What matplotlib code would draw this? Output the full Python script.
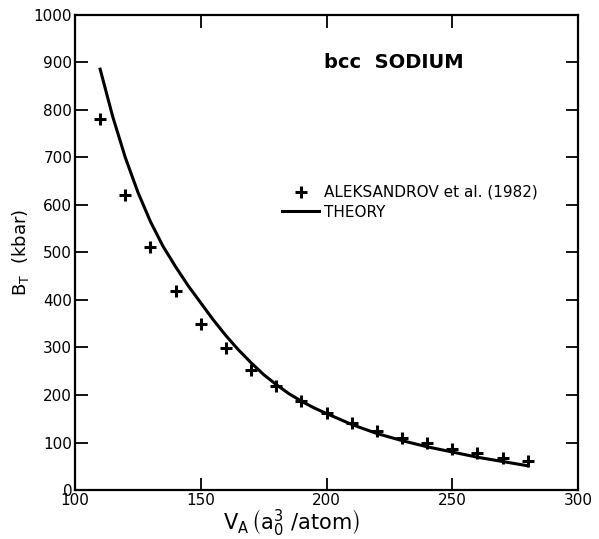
import matplotlib
matplotlib.use("Agg")
import matplotlib.pyplot as plt

# Aleksandrov et al. (1982) measurements
volume_exp = [110, 120, 130, 140, 150, 160, 170, 180, 190,
              200, 210, 220, 230, 240, 250, 260, 270, 280]
bulk_exp = [780, 622, 511, 419, 350, 299, 252, 218, 188,
            162, 142, 125, 109, 98, 86, 77, 68, 62]

# theory curve
volume_theory = [110, 115, 120, 125, 130, 135, 140, 145, 150, 155, 160,
                 165, 170, 175, 180, 185, 190, 195, 200, 210, 220, 230,
                 240, 250, 260, 270, 280]
bulk_theory = [886, 786, 700, 627, 565, 513, 470, 430, 394, 358, 325,
               295, 268, 243, 222, 203, 187, 173, 161, 138, 119, 104,
               91, 80, 69, 60, 51]

x_ticks = [100, 150, 200, 250, 300]
y_ticks = list(range(0, 1001, 100))


fig = plt.figure(figsize=(5.99, 5.39), dpi=100)
ax = fig.add_axes([0.1252, 0.0909, 0.8398, 0.8813])

ax.plot(volume_exp, bulk_exp, linestyle="none", marker="+", markersize=8,
        markeredgewidth=2.2, color="black", label="ALEKSANDROV et al. (1982)")
ax.plot(volume_theory, bulk_theory, color="black", linewidth=2.2,
        label="THEORY")

ax.set_xlim(100, 300)
ax.set_ylim(0, 1000)
ax.set_xticks(x_ticks)
ax.set_yticks(y_ticks)

ax.tick_params(direction="in", length=9, width=1.3, labelsize=11,
               top=True, right=True, pad=2)
for spine in ax.spines.values():
    spine.set_linewidth(1.6)

ax.set_ylabel(r"B$_\mathrm{T}$  (kbar)", fontsize=13, labelpad=2)
ax.set_xlabel(r"V$_\mathrm{A}$$\,\left(\mathrm{a}_0^3\ /\mathrm{atom}\right)$",
              fontsize=15)
ax.xaxis.set_label_coords(0.43, -0.036)

ax.text(199, 900, "bcc  SODIUM", fontsize=14, fontweight="bold",
        va="center", ha="left")

ax.legend(loc="upper left", bbox_to_anchor=(0.40, 0.655), frameon=False,
          fontsize=11, handlelength=2.4, handletextpad=0.3,
          labelspacing=0.3, borderaxespad=0)

fig.savefig("out.png", dpi=100)
plt.close(fig)
